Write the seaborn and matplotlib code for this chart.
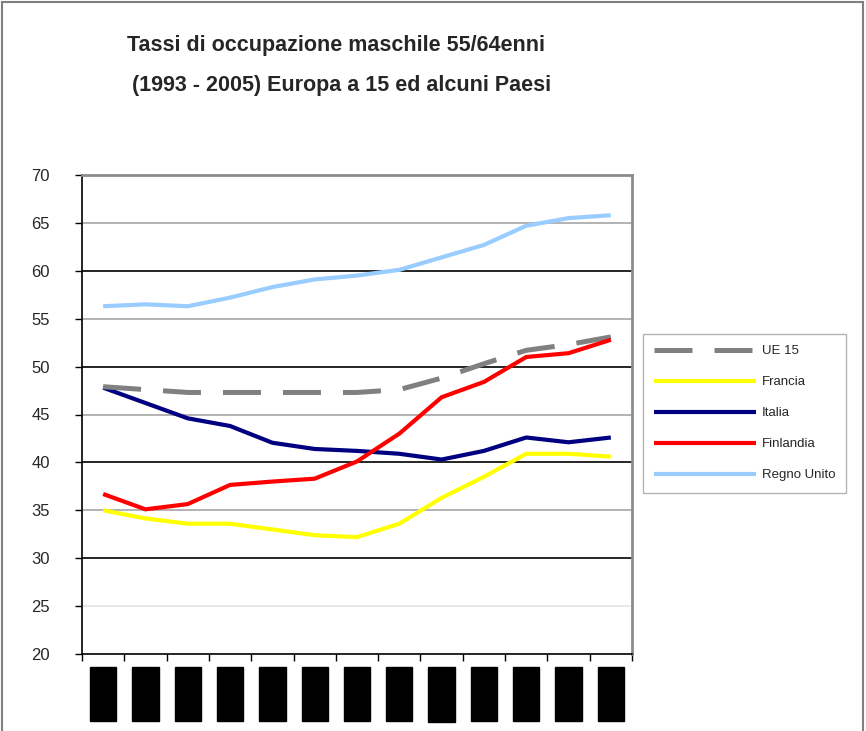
import matplotlib
matplotlib.use("Agg")
import matplotlib.pyplot as plt
import seaborn as sns
import pandas as pd
from matplotlib.patches import Rectangle

years = ["1993", "1994", "1995", "1996", "1997", "1998", "1999", "2000", "2001", "2002", "2003", "2004", "2005"]
ue15 = [47.9, 47.6, 47.3, 47.3, 47.3, 47.3, 47.3, 47.6, 48.8, 50.3, 51.7, 52.3, 53.1]
francia = [35.0, 34.15, 33.6, 33.6, 33.0, 32.4, 32.2, 33.6, 36.3, 38.5, 40.9, 40.9, 40.6]
italia = [47.8, 46.2, 44.6, 43.8, 42.05, 41.4, 41.2, 40.9, 40.3, 41.2, 42.6, 42.1, 42.6]
finlandia = [36.7, 35.1, 35.65, 37.65, 38.0, 38.3, 40.1, 43.0, 46.8, 48.4, 51.0, 51.4, 52.8]
regno_unito = [56.3, 56.5, 56.3, 57.2, 58.3, 59.1, 59.5, 60.1, 61.4, 62.7, 64.7, 65.5, 65.8]
series_names = ["UE 15", "Francia", "Italia", "Finlandia", "Regno Unito"]
series_values = [ue15, francia, italia, finlandia, regno_unito]
title_lines = ["Tassi di occupazione maschile 55/64enni", "(1993 - 2005) Europa a 15 ed alcuni Paesi"]

colors = {"UE 15": "#808080", "Francia": "#FFFF00", "Italia": "#000080",
          "Finlandia": "#FF0000", "Regno Unito": "#99CCFF"}

sns.set_style("white")
plt.rcParams["font.family"] = ["Liberation Sans", "DejaVu Sans"]

fig = plt.figure(figsize=(8.66, 7.31), dpi=100)
ax = fig.add_axes([82 / 866, 1 - 654 / 731, 550 / 866, 479 / 731])

rows = []
for name, vals in zip(series_names, series_values):
    for i, v in enumerate(vals):
        rows.append({"serie": name, "x": i, "valore": v})
df = pd.DataFrame(rows)

# gridlines
for lv in [30, 40, 50, 60]:
    ax.axhline(lv, color="black", lw=1.2, zorder=1)
for lv in [35, 45, 55, 65]:
    ax.axhline(lv, color="#a6a6a6", lw=1.2, zorder=1)
ax.axhline(25, color="#e4e4e4", lw=1.2, zorder=1)

draw_order = ["Regno Unito", "Francia", "Italia", "UE 15", "Finlandia"]
handles = {}
for name in draw_order:
    sub = df[df["serie"] == name]
    if name == "UE 15":
        sns.lineplot(data=sub, x="x", y="valore", ax=ax, color=colors[name], lw=3.6, zorder=3,
                     dashes=False, label=name)
        ln = ax.get_lines()[-1]
        ln.set_dashes((7.6, 4.4))
    else:
        sns.lineplot(data=sub, x="x", y="valore", ax=ax, color=colors[name], lw=3.0, zorder=3,
                     label=name)
        ln = ax.get_lines()[-1]
    ln.set_solid_capstyle("butt")
    handles[name] = ln

ax.set_xlim(-0.5, 12.5)
ax.set_ylim(20, 70)
ax.set_yticks(range(20, 71, 5))
ax.set_xlabel("")
ax.set_ylabel("")

ax.set_xticks([i - 0.5 for i in range(14)])
ax.set_xticklabels([""] * 14)
ax.set_xticks(list(range(13)), minor=True)
ax.set_xticklabels(years, minor=True, rotation=90, fontsize=16, color="black", va="top",
                   bbox=dict(facecolor="black", edgecolor="black", pad=2))
ax.tick_params(axis="x", which="major", direction="out", length=5, width=1, color="black", bottom=True)
ax.tick_params(axis="x", which="minor", length=0, pad=11)
ax.tick_params(axis="y", direction="out", length=5, width=1, color="black", left=True,
               labelsize=12, pad=18)

for s in ["left", "bottom"]:
    ax.spines[s].set_color("black")
    ax.spines[s].set_linewidth(1.2)
for s in ["top", "right"]:
    ax.spines[s].set_color("#8c8c8c")
    ax.spines[s].set_linewidth(2)
ax.set_facecolor("white")

leg = ax.legend([handles[n] for n in series_names], series_names,
                loc="upper left", bbox_to_anchor=(643 / 866, 1 - 334 / 731),
                bbox_transform=fig.transFigure, fontsize=9.5, frameon=True, fancybox=False,
                edgecolor="#a0a0a0", handlelength=7.7, handletextpad=0.45, labelspacing=1.42,
                borderpad=0.85, borderaxespad=0)
leg.get_frame().set_linewidth(1.0)

fig.text(336 / 866, 1 - 45 / 731, title_lines[0], ha="center", va="center", fontsize=15.5,
         fontweight="bold")
fig.text(342 / 866, 1 - 86 / 731, title_lines[1], ha="center", va="center", fontsize=15.5,
         fontweight="bold")

fig.patches.append(Rectangle((2 / 866, -0.05), 861 / 866, 1.05 - 2 / 731, transform=fig.transFigure,
                             fill=False, edgecolor="#808080", lw=1.5))

fig.savefig("out.png", dpi=100)
